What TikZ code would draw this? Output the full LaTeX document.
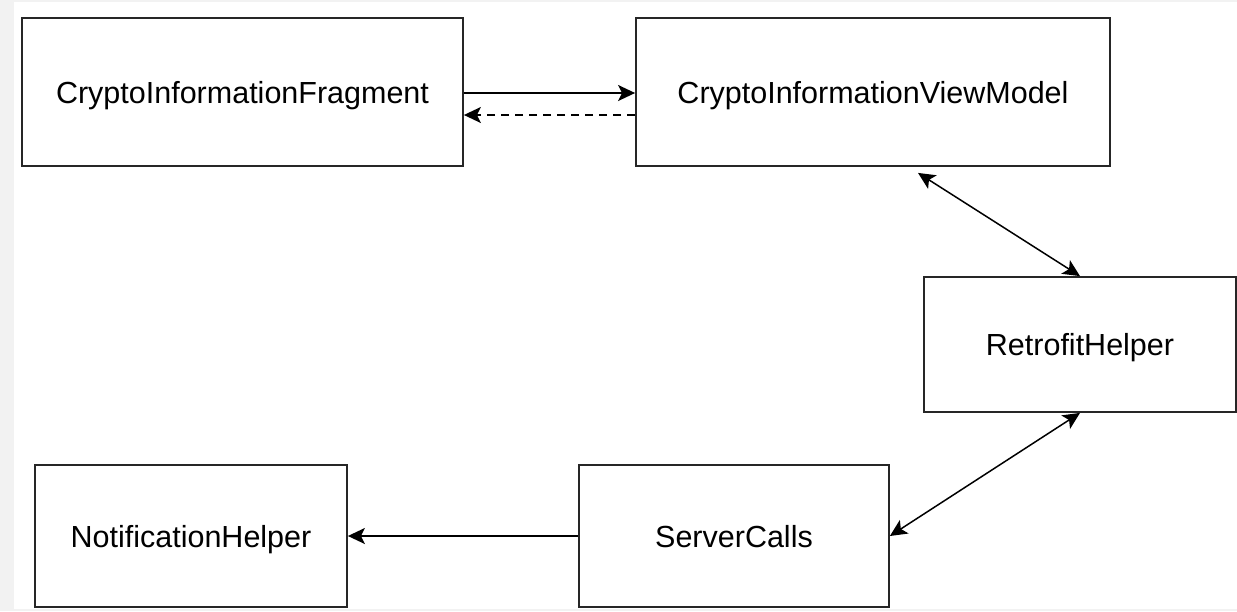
\documentclass[tikz,border=0pt]{standalone}
\usepackage{fontspec}
\setmainfont{Liberation Sans}
\usetikzlibrary{arrows.meta}
\definecolor{bggray}{HTML}{F2F2F2}
\tikzset{
  box/.style={draw=black!85, line width=1.8pt, fill=white, rectangle, inner sep=0pt,
    text height=22pt, text depth=0pt,
    font=\fontsize{30.5}{36}\selectfont},
  conn/.style={line width=1.8pt, -{Stealth[length=17pt,width=16pt,inset=4pt]}},
  dconn/.style={line width=1.5pt, {Stealth[length=17pt,width=16pt,inset=4pt]}-{Stealth[length=17pt,width=16pt,inset=4pt]}},
}
\begin{document}
\begin{tikzpicture}[x=1pt,y=-1pt]
\fill[bggray] (0,0) rectangle (1237,611);
\fill[white] (14,2) rectangle (1237,609);
\useasboundingbox (0,0) rectangle (1237,611);

\node[box, minimum width=441pt, minimum height=148pt] (frag) at (242.5,92) {CryptoInformationFragment};
\node[box, minimum width=474pt, minimum height=148pt] (vm) at (873,92) {CryptoInformationViewModel};
\node[box, minimum width=312pt, minimum height=135pt] (retro) at (1080,344.5) {RetrofitHelper};
\node[box, minimum width=310pt, minimum height=142pt] (server) at (734,536) {ServerCalls};
\node[box, minimum width=312pt, minimum height=142pt] (notif) at (191,536) {NotificationHelper};

\draw[conn] ([yshift=-1pt]frag.east) -- ([yshift=-1pt]vm.west);
\draw[conn, dashed, dash pattern=on 8pt off 6pt] ([yshift=-23pt]vm.west) -- ([yshift=-23pt]frag.east);
\coordinate (vmb) at ([xshift=45pt,yshift=-6pt]vm.south);
\draw[dconn] (vmb) -- (retro.north);
\draw[dconn] (retro.south) -- (server.east);
\draw[conn] (server.west) -- (notif.east);
\end{tikzpicture}
\end{document}
